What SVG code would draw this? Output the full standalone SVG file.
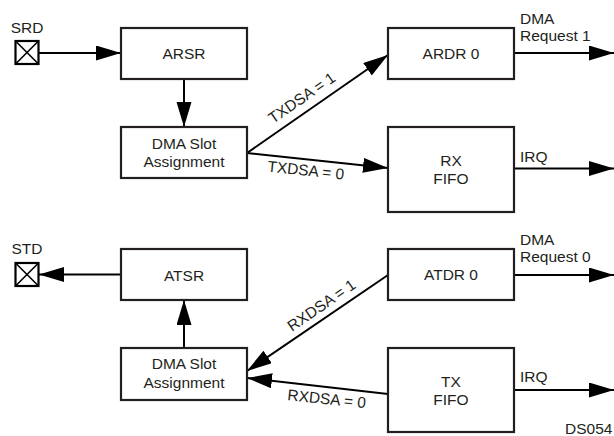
<svg xmlns="http://www.w3.org/2000/svg" width="614" height="436" viewBox="0 0 614 436">
<defs>
<marker id="ah" markerUnits="userSpaceOnUse" markerWidth="26" markerHeight="16" refX="25" refY="7.5" orient="auto">
<path d="M0,0 L25,7.5 L0,15 z" fill="#000"/>
</marker>
<style>
.box{fill:#fff;stroke:#231f20;stroke-width:2.2}
.pin{fill:#fff;stroke:#000;stroke-width:2.2}
.x{stroke:#000;stroke-width:1.6}
.t{font-family:"Liberation Sans",Arial,Helvetica,sans-serif;font-size:15.5px;fill:#231f20}
.c{text-anchor:middle}
.ln{stroke:#000;stroke-width:2;fill:none;marker-end:url(#ah)}
</style>
</defs>

<g id="connectors">
<line class="ln" x1="39" y1="53" x2="121" y2="53"/>
<line class="ln" x1="184" y1="79" x2="184" y2="127"/>
<line class="ln" x1="247" y1="153" x2="388" y2="55"/>
<line class="ln" x1="247" y1="153" x2="388" y2="168"/>
<line class="ln" x1="514" y1="53" x2="614" y2="53"/>
<line class="ln" x1="514" y1="168.5" x2="614" y2="168.5"/>
<line class="ln" x1="121" y1="274.5" x2="39" y2="274.5"/>
<line class="ln" x1="184" y1="348" x2="184" y2="300"/>
<line class="ln" x1="388" y1="275" x2="247" y2="371"/>
<line class="ln" x1="388" y1="394" x2="247" y2="378"/>
<line class="ln" x1="514" y1="275" x2="614" y2="275"/>
<line class="ln" x1="514" y1="390" x2="614" y2="390"/>
<text class="t" x="273" y="124" transform="rotate(-34.5 273 124)">TXDSA = 1</text>
<text class="t" x="267" y="171.5" transform="rotate(6 267 171.5)">TXDSA = 0</text>
<text class="t" x="292" y="332" transform="rotate(-34.5 292 332)">RXDSA = 1</text>
<text class="t" x="287" y="400" transform="rotate(6 287 400)">RXDSA = 0</text>
<text class="t" x="520" y="24">DMA</text>
<text class="t" x="520" y="41">Request 1</text>
<text class="t" x="520" y="162">IRQ</text>
<text class="t" x="520" y="245">DMA</text>
<text class="t" x="520" y="262">Request 0</text>
<text class="t" x="520" y="382">IRQ</text>
</g>

<g id="SRD">
<text class="t c" x="27" y="33">SRD</text>
<rect class="pin" x="15.5" y="41" width="23" height="23"/>
<line class="x" x1="15.5" y1="41" x2="38.5" y2="64"/>
<line class="x" x1="38.5" y1="41" x2="15.5" y2="64"/>
</g>

<g id="ARSR">
<rect class="box" x="121" y="28" width="126" height="51"/>
<text class="t c" x="184" y="59">ARSR</text>
</g>

<g id="DMASlot1">
<rect class="box" x="121" y="127" width="126" height="51"/>
<text class="t c" x="184" y="149">DMA Slot</text>
<text class="t c" x="184" y="167">Assignment</text>
</g>

<g id="ARDR0">
<rect class="box" x="388" y="28" width="126" height="51"/>
<text class="t c" x="451" y="59">ARDR 0</text>
</g>

<g id="RXFIFO">
<rect class="box" x="388" y="127" width="126" height="85"/>
<text class="t c" x="451" y="166">RX</text>
<text class="t c" x="451" y="184">FIFO</text>
</g>

<g id="STD">
<text class="t c" x="27" y="254">STD</text>
<rect class="pin" x="15.5" y="263" width="23" height="23"/>
<line class="x" x1="15.5" y1="263" x2="38.5" y2="286"/>
<line class="x" x1="38.5" y1="263" x2="15.5" y2="286"/>
</g>

<g id="ATSR">
<rect class="box" x="121" y="249" width="126" height="51"/>
<text class="t c" x="184" y="281">ATSR</text>
</g>

<g id="DMASlot2">
<rect class="box" x="121" y="348" width="126" height="52"/>
<text class="t c" x="184" y="369">DMA Slot</text>
<text class="t c" x="184" y="387.5">Assignment</text>
</g>

<g id="ATDR0">
<rect class="box" x="388" y="249" width="126" height="51"/>
<text class="t c" x="451" y="280">ATDR 0</text>
</g>

<g id="TXFIFO">
<rect class="box" x="388" y="348" width="126" height="84"/>
<text class="t c" x="451" y="387">TX</text>
<text class="t c" x="451" y="405">FIFO</text>
</g>

<text class="t" x="565" y="434">DS054</text>
</svg>
